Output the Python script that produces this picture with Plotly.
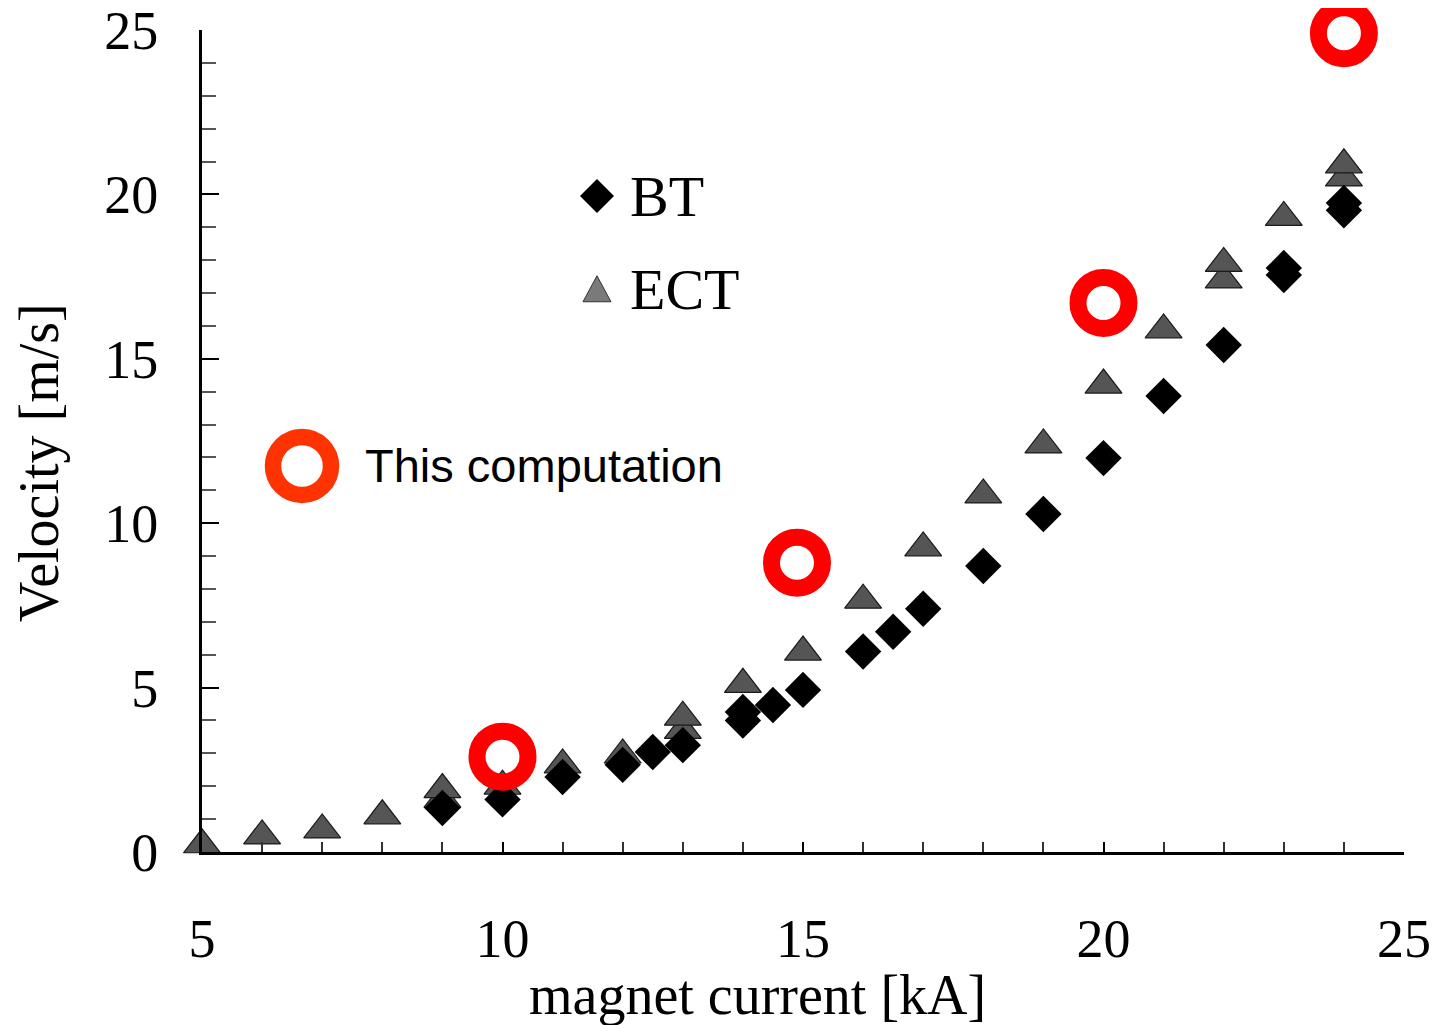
import plotly.graph_objects as go

# ---- data ----
bt_x = [9, 10, 11, 12, 12.5, 13, 14, 14, 14.5, 15, 16, 16.5, 17, 18, 19, 20, 21, 22, 23, 23, 24, 24]
bt_y = [1.34, 1.6, 2.28, 2.65, 3.04, 3.25, 4.0, 4.26, 4.47, 4.93, 6.1, 6.7, 7.4, 8.7, 10.28, 11.98,
        13.87, 15.42, 17.55, 17.76, 19.52, 19.74]

ect_x = [5, 6, 7, 8, 9, 9, 10, 11, 12, 13, 13, 14, 15, 16, 17, 18, 19, 20, 21, 22, 22, 23, 24, 24]
ect_y = [0.22, 0.49, 0.67, 1.1, 1.6, 1.9, 2.0, 2.65, 2.95, 3.7, 4.1, 5.1, 6.08, 7.66, 9.25, 10.86,
         12.38, 14.2, 15.88, 17.4, 17.9, 19.3, 20.5, 20.9]

comp_x = [10, 14.9, 20, 24]
comp_y = [2.9, 8.8, 16.7, 24.9]

x_tick0, x_dtick, x_minor = 5, 5, 1
y_tick0, y_dtick, y_minor = 0, 5, 1

serif = "Liberation Serif, Times New Roman, serif"
sans = "Liberation Sans, Arial, sans-serif"

fig = go.Figure()

fig.add_trace(go.Scatter(
    x=ect_x, y=ect_y, mode="markers", name="ECT", cliponaxis=False,
    marker=dict(symbol="triangle-up", size=32, color="#555555",
                line=dict(width=1.2, color="#1a1a1a")),
))
fig.add_trace(go.Scatter(
    x=bt_x, y=bt_y, mode="markers", name="BT", cliponaxis=False,
    marker=dict(symbol="diamond", size=28, color="#000000", line=dict(width=0)),
))
fig.add_trace(go.Scatter(
    x=comp_x, y=comp_y, mode="markers", name="This computation", cliponaxis=False,
    marker=dict(symbol="circle-open", size=51, color="#ff0000",
                line=dict(width=17, color="#ff0000")),
))

# ---- legend keys as pixel-sized shapes anchored in paper coordinates ----
def key(xa, ya, **kw):
    return dict(xref="paper", yref="paper", xsizemode="pixel", ysizemode="pixel",
                xanchor=xa, yanchor=ya, layer="above", **kw)

shapes = [
    key(0.3286, 0.798, type="path", path="M -17 0 L 0 17 L 17 0 L 0 -17 Z",
        fillcolor="black", line=dict(width=0)),
    key(0.3286, 0.684, type="path", path="M -14 -12 L 14 -12 L 0 14 Z",
        fillcolor="#7a7a7a", line=dict(width=1, color="#333")),
    key(0.0832, 0.4696, type="circle", x0=-29, x1=29, y0=-29, y1=29,
        line=dict(width=16.5, color="#ff3300")),
]

annotations = [
    dict(text="BT", x=0.3544, y=0.798, xref="paper", yref="paper", xanchor="left", yanchor="middle",
         showarrow=False, font=dict(family=serif, size=58, color="black")),
    dict(text="ECT", x=0.3544, y=0.684, xref="paper", yref="paper", xanchor="left", yanchor="middle",
         showarrow=False, font=dict(family=serif, size=58, color="black")),
    dict(text="This computation", x=0.134, y=0.4696, xref="paper", yref="paper", xanchor="left",
         yanchor="middle", showarrow=False, font=dict(family=sans, size=47, color="black")),
    dict(text="magnet current [kA]", x=0.462, y=-0.174, xref="paper", yref="paper", xanchor="center",
         yanchor="middle", showarrow=False, font=dict(family=serif, size=56, color="black")),
    dict(text="Velocity [m/s]", x=-0.135, y=0.474, xref="paper", yref="paper", xanchor="center",
         yanchor="middle", textangle=-90, showarrow=False, font=dict(family=serif, size=56, color="black")),
]

fig.update_layout(
    width=1439, height=1025,
    margin=dict(l=194, r=43, t=22, b=181, autoexpand=False),
    paper_bgcolor="white", plot_bgcolor="white",
    showlegend=False,
    annotations=annotations,
    shapes=shapes,
    xaxis=dict(range=[5, 25], tickmode="linear", tick0=x_tick0, dtick=x_dtick, automargin=False,
               ticks="inside", ticklen=10, tickwidth=2, tickcolor="black",
               minor=dict(tick0=x_tick0, dtick=x_minor, ticks="inside", ticklen=10, tickwidth=2, tickcolor="#333"),
               showline=True, linecolor="black", linewidth=3, showgrid=False, zeroline=False,
               tickfont=dict(family=serif, size=54, color="black"), ticklabelstandoff=37,
               ticklabeloverflow="allow"),
    yaxis=dict(range=[0, 25], tickmode="linear", tick0=y_tick0, dtick=y_dtick, automargin=False,
               ticks="inside", ticklen=17, tickwidth=2, tickcolor="black",
               minor=dict(tick0=y_tick0, dtick=y_minor, ticks="inside", ticklen=14, tickwidth=2, tickcolor="#555"),
               showline=True, linecolor="black", linewidth=3, showgrid=False, zeroline=False,
               tickfont=dict(family=serif, size=54, color="black"), ticklabelstandoff=30,
               ticklabeloverflow="allow"),
)

fig.write_html("out.html")
